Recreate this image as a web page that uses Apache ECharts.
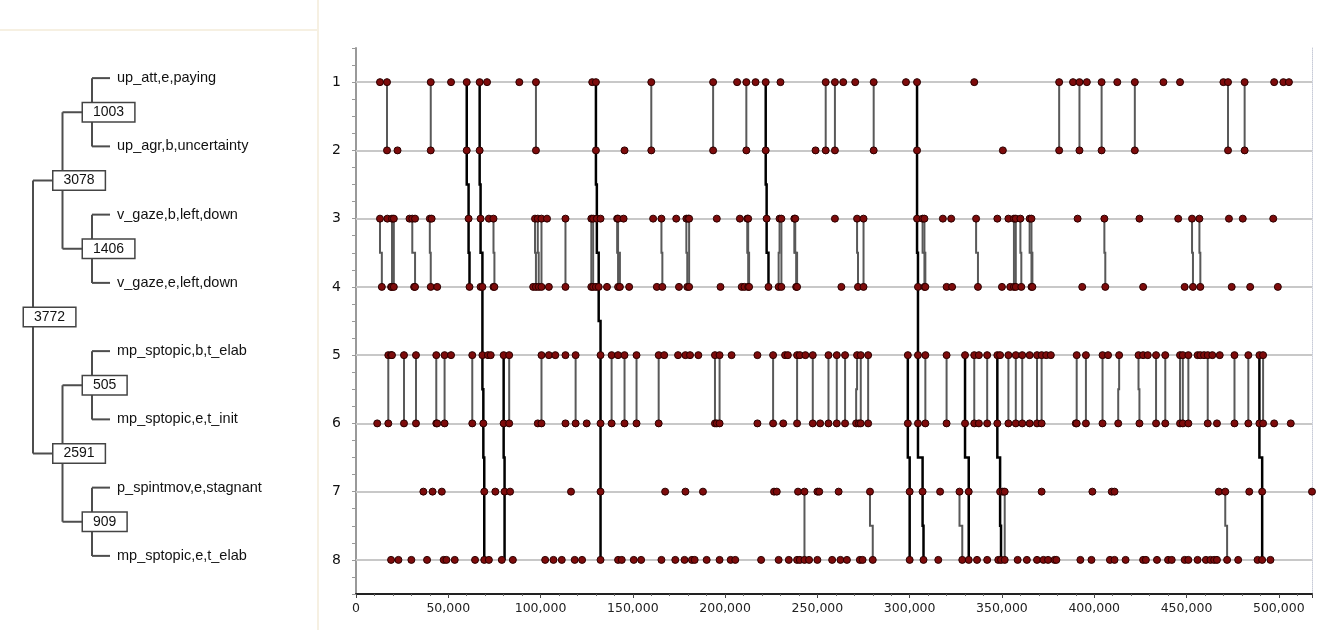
<!DOCTYPE html>
<html lang="en">
<head>
<meta charset="UTF-8">
<title>Episode chart</title>
<style>
  * { margin: 0; padding: 0; }
  body { background: #fff; overflow: hidden; }
  #chart { width: 1325px; height: 630px; }
</style>
</head>
<body>
<div id="chart"></div>
<script src="https://cdn.jsdelivr.net/npm/echarts@6/dist/echarts.min.js"></script>
<script>
  // dendrogram of the event types (leaves are rows 1..8, top to bottom)
  const tree = {
    name: '3772', children: [
      { name: '3078', children: [
        { name: '1003', children: [{ name: 'up_att,e,paying' }, { name: 'up_agr,b,uncertainty' }] },
        { name: '1406', children: [{ name: 'v_gaze,b,left,down' }, { name: 'v_gaze,e,left,down' }] }
      ] },
      { name: '2591', children: [
        { name: '505', children: [{ name: 'mp_sptopic,b,t_elab' }, { name: 'mp_sptopic,e,t_init' }] },
        { name: '909', children: [{ name: 'p_spintmov,e,stagnant' }, { name: 'mp_sptopic,e,t_elab' }] }
      ] }
    ]
  };

  const rows = [1, 2, 3, 4, 5, 6, 7, 8];
  const xTicks = { min: 0, max: 518000, step: 50000 };

  // event times per row
  const row1 = [13000, 16800, 40500, 51500, 60000, 67000, 71000, 88500, 97500, 128000, 130000, 160000, 193500, 206500, 211500, 216500, 222000, 230000, 254500, 259500, 264000, 270500, 280500, 298000, 304000, 335000, 381000, 388500, 392000, 396000, 404000, 412500, 422000, 437500, 446500, 470000, 472500, 481500, 497500, 502500, 505500];
  const row2 = [16800, 22500, 40500, 60000, 67000, 97500, 130000, 145500, 160000, 193500, 211500, 222000, 249000, 254500, 259500, 280500, 304000, 350500, 381000, 392000, 404000, 422000, 472500, 481500];
  const row3 = [13000, 17000, 19500, 20500, 29000, 30500, 32000, 40000, 41000, 61000, 67500, 72000, 74500, 97000, 98500, 100500, 103500, 113500, 127500, 128500, 130500, 132500, 141500, 142000, 145000, 161000, 165500, 173500, 179000, 180000, 180500, 195500, 208000, 212000, 212500, 222500, 229500, 230500, 237500, 238000, 259500, 271500, 275000, 304000, 307000, 308000, 318000, 322500, 336000, 347500, 353500, 356500, 357500, 360000, 365000, 366000, 391000, 405500, 424500, 445500, 453000, 457000, 473000, 480500, 497000];
  const row4 = [14000, 19000, 19500, 20500, 31500, 32000, 40500, 44000, 61500, 67500, 68500, 74500, 75000, 96000, 97500, 99000, 100500, 104500, 113500, 127500, 128500, 130000, 131500, 136000, 142000, 143000, 148000, 163000, 166000, 175000, 179500, 180500, 197500, 209000, 210500, 212500, 213000, 223500, 229000, 230500, 238500, 239000, 263000, 272000, 275000, 304500, 308000, 308500, 320000, 323000, 337000, 350000, 354500, 356500, 357500, 360500, 366000, 366500, 393500, 406000, 426500, 449000, 453500, 457500, 474500, 484500, 499500];
  const row5 = [17500, 19000, 19500, 26000, 32500, 43500, 48000, 51500, 63000, 68500, 71500, 73000, 80000, 83000, 100500, 104500, 108000, 113500, 119000, 132500, 138500, 142000, 145500, 152000, 164000, 167000, 174500, 178500, 181000, 185500, 194500, 197000, 203500, 217500, 226000, 232500, 234000, 239000, 240500, 243500, 247500, 256000, 260500, 265000, 271500, 273500, 277500, 299000, 304500, 308500, 320000, 330000, 335000, 337500, 342000, 347500, 349000, 353500, 357500, 361000, 365000, 369000, 371500, 374000, 376500, 390500, 395500, 404500, 407500, 413500, 424000, 426500, 429000, 433500, 438500, 446500, 448000, 451000, 456000, 457500, 459500, 461500, 464000, 468000, 476000, 483500, 489500, 491500];
  const row6 = [11500, 17500, 26000, 32500, 43500, 44000, 48000, 63000, 69000, 80000, 83000, 98500, 100500, 113500, 119000, 125000, 132500, 138500, 145500, 152000, 164000, 194500, 195500, 197000, 217500, 226000, 231500, 239000, 247500, 251500, 256000, 260500, 265000, 271000, 272500, 273500, 277500, 299000, 304500, 308500, 320000, 330000, 335000, 337500, 342000, 347500, 353500, 357500, 361000, 365000, 369000, 371500, 390000, 390500, 395500, 404500, 413000, 424500, 433500, 438500, 446500, 448000, 451000, 461500, 466500, 476000, 483500, 489500, 491500, 497500, 506500];
  const row7 = [36500, 41500, 46500, 69500, 75500, 80500, 83500, 116500, 132500, 167500, 178500, 188000, 226500, 228000, 239500, 243000, 250000, 251000, 261500, 278500, 300000, 307000, 316500, 327000, 332000, 349000, 350500, 351500, 371500, 399000, 409500, 411000, 467500, 471000, 484000, 491000, 518000];
  const row8 = [19000, 23000, 30000, 38500, 47500, 49000, 53500, 64500, 69500, 72000, 79000, 85000, 102500, 107000, 111500, 118500, 122500, 132500, 142000, 144000, 150500, 154500, 165500, 173000, 178000, 182000, 183500, 190000, 197000, 203000, 205500, 219500, 229000, 234500, 239000, 240500, 243000, 245500, 250000, 258000, 262500, 266000, 273000, 274500, 280000, 300000, 307500, 315500, 328500, 332000, 336500, 342000, 348000, 349500, 351500, 358500, 363500, 369000, 372500, 375000, 378500, 379500, 392500, 398500, 408500, 411000, 417000, 426500, 428000, 434000, 440000, 442000, 449000, 451000, 456000, 460500, 463000, 465000, 466500, 472000, 478000, 488500, 491000, 495500];
  const rowEvents = [row1, row2, row3, row4, row5, row6, row7, row8];

  // pair links [time in upper row, time in lower row]
  const links1to2 = [[16800, 16800], [40500, 40500], [97500, 97500], [160000, 160000], [193500, 193500], [211500, 211500], [254500, 254500], [259500, 259500], [280500, 280500], [381000, 381000], [392000, 392000], [404000, 404000], [422000, 422000], [472500, 472500], [481500, 481500]];
  const links3to4 = [[13000, 14000], [19500, 19500], [20500, 20500], [30500, 32000], [40000, 40500], [74500, 75000], [97000, 97500], [98500, 99000], [100500, 100500], [113500, 113500], [127500, 127500], [128500, 128500], [141500, 142000], [142000, 143000], [165500, 166000], [179000, 179500], [180500, 180500], [212000, 212500], [212500, 213000], [229500, 229000], [230500, 230500], [237500, 238500], [238000, 239000], [271500, 272000], [275000, 275000], [307000, 308000], [308000, 308500], [336000, 337000], [356500, 356500], [357500, 357500], [360000, 360500], [365000, 366000], [366000, 366500], [405500, 406000], [453000, 453500], [457000, 457500]];
  const links5to6 = [[17500, 17500], [26000, 26000], [32500, 32500], [43500, 43500], [48000, 48000], [63000, 63000], [83000, 83000], [100500, 100500], [119000, 119000], [138500, 138500], [145500, 145500], [152000, 152000], [164000, 164000], [194500, 194500], [197000, 197000], [226000, 226000], [239000, 239000], [247500, 247500], [256000, 256000], [260500, 260500], [265000, 265000], [271500, 271000], [273500, 273500], [277500, 277500], [308500, 308500], [320000, 320000], [335000, 335000], [342000, 342000], [353500, 353500], [357500, 357500], [361000, 361000], [369000, 369000], [371500, 371500], [390500, 390500], [395500, 395500], [404500, 404500], [413500, 413000], [424000, 424500], [433500, 433500], [438500, 438500], [446500, 446500], [448000, 448000], [451000, 451000], [461500, 461500], [476000, 476000], [483500, 483500], [491500, 491500]];
  const links7to8 = [[243000, 243000], [278500, 280000], [327000, 328500], [351500, 351500], [471000, 472000]];

  // long episodes: first row, then time in each following row
  const episodes = [
    [1, [60000, 60000, 61000, 61500]],
    [1, [67000, 67000, 67500, 68500, 68500, 69000, 69500, 69500]],
    [1, [130000, 130000, 130500, 131500, 132500, 132500, 132500, 132500]],
    [1, [222000, 222000, 222500, 223500]],
    [1, [304000, 304000, 304000, 304500, 304500, 304500, 307000, 307500]],
    [5, [80000, 80000, 80500, 80500]],
    [5, [299000, 299000, 300000, 300000]],
    [5, [330000, 330000, 332000, 332000]],
    [5, [347500, 347500, 349000, 349500]],
    [5, [489500, 489500, 491000, 491000]]
  ];

  // path that steps sideways half way between rows
  function stepPath(startRow, xs) {
    const pts = [[xs[0], startRow]];
    for (let i = 1; i < xs.length; i++) {
      const mid = startRow + i - 0.5;
      pts.push([xs[i - 1], mid], [xs[i], mid], [xs[i], startRow + i]);
    }
    return pts;
  }

  const pairLines = [];
  [[1, links1to2], [3, links3to4], [5, links5to6], [7, links7to8]].forEach(([r, list]) => {
    list.forEach(p => pairLines.push({ coords: stepPath(r, p) }));
  });
  const episodeLines = episodes.map(([r, xs]) => ({ coords: stepPath(r, xs) }));

  const points = [];
  rowEvents.forEach((list, i) => list.forEach(x => points.push([x, rows[i]])));

  // tree layout: leaves take the rows in order, parents sit between first and last child
  const treeNodes = [];
  let leafCount = 0;
  function place(node, depth) {
    node.depth = depth;
    if (!node.children) {
      node.y = rows[leafCount++];
      return;
    }
    node.children.forEach(c => place(c, depth + 1));
    node.y = (node.children[0].y + node.children[node.children.length - 1].y) / 2;
    treeNodes.push(node);
  }
  place(tree, 0);

  const LEAF_STUB = 18;
  const edgeStyle = { stroke: '#4d4d4d', lineWidth: 2 };
  const boxFont = '14px "Liberation Sans", Arial, sans-serif';
  const leafFont = '14.5px "Liberation Sans", Arial, sans-serif';

  function renderNode(params, api) {
    const node = treeNodes[api.value(2)];
    const p = api.coord([node.depth, node.y]);
    const kids = node.children;
    const top = api.coord([node.depth, kids[0].y])[1];
    const bottom = api.coord([node.depth, kids[kids.length - 1].y])[1];
    const els = [{ type: 'line', shape: { x1: p[0], y1: top, x2: p[0], y2: bottom }, style: edgeStyle }];
    kids.forEach(c => {
      const cy = api.coord([node.depth, c.y])[1];
      const x2 = c.children ? api.coord([c.depth, c.y])[0] : p[0] + LEAF_STUB;
      els.push({ type: 'line', shape: { x1: p[0], y1: cy, x2: x2, y2: cy }, style: edgeStyle });
      if (!c.children) {
        els.push({ type: 'text', style: { text: c.name, x: x2 + 7, y: cy, verticalAlign: 'middle', fill: '#111', font: leafFont } });
      }
    });
    els.push({
      type: 'text', z2: 10,
      style: {
        text: node.name, x: p[0] - 9, y: p[1], align: 'left', verticalAlign: 'middle',
        fill: '#111', font: boxFont, backgroundColor: '#fff',
        borderColor: '#444', borderWidth: 1.5, padding: [2, 10]
      }
    });
    return { type: 'group', children: els };
  }

  const chart = echarts.init(document.getElementById('chart'));
  chart.setOption({
    animation: false,
    backgroundColor: '#fff',
    graphic: [
      { type: 'line', shape: { x1: 0, y1: 30, x2: 318, y2: 30 }, style: { stroke: '#f6f0e2', lineWidth: 2 }, silent: true },
      { type: 'line', shape: { x1: 318, y1: 0, x2: 318, y2: 630 }, style: { stroke: '#f6f0e2', lineWidth: 2 }, silent: true }
    ],
    grid: [
      { left: 356, right: 13, top: 48, bottom: 36 },
      { left: 33, width: 59, top: 44, height: 546 }
    ],
    xAxis: [
      {
        type: 'value', gridIndex: 0, min: xTicks.min, max: xTicks.max, interval: xTicks.step,
        axisLine: { lineStyle: { color: '#222', width: 2 } },
        axisTick: { length: 4, lineStyle: { color: '#444' } },
        minorTick: { show: true, splitNumber: 5, length: 2, lineStyle: { color: '#666' } },
        splitLine: { show: false },
        axisLabel: {
          color: '#222', fontSize: 12.5, fontFamily: 'DejaVu Sans', margin: 8, showMaxLabel: false,
          formatter: v => v.toLocaleString('en-US')
        }
      },
      { type: 'value', gridIndex: 1, min: 0, max: 2, show: false }
    ],
    yAxis: [
      {
        type: 'value', gridIndex: 0, inverse: true, min: 0.5, max: 8.5, interval: 0.25,
        axisLine: { show: true, lineStyle: { color: '#999', width: 2 } },
        axisTick: { show: true, length: 4, lineStyle: { color: '#999' } },
        splitLine: { show: false },
        axisLabel: {
          color: '#111', fontSize: 14, fontFamily: 'DejaVu Sans', margin: 15,
          formatter: v => (Number.isInteger(v) ? String(v) : '')
        }
      },
      {
        type: 'value', gridIndex: 0, position: 'right', inverse: true, min: 0.5, max: 8.5,
        axisLine: { show: true, lineStyle: { color: '#c8ccd8', width: 1, type: 'dotted' } },
        axisTick: { show: false }, axisLabel: { show: false }, splitLine: { show: false }
      },
      { type: 'value', gridIndex: 1, inverse: true, min: 0.5, max: 8.5, show: false }
    ],
    series: [
      {
        type: 'line', xAxisIndex: 0, yAxisIndex: 0, data: [], silent: true, z: 1,
        markLine: {
          silent: true, symbol: 'none', label: { show: false }, z: 1,
          lineStyle: { color: '#c8c8c8', width: 2, type: 'solid' },
          data: rows.map(r => ({ yAxis: r }))
        }
      },
      {
        type: 'lines', coordinateSystem: 'cartesian2d', xAxisIndex: 0, yAxisIndex: 0,
        polyline: true, silent: true, z: 2,
        lineStyle: { color: '#595959', width: 2, opacity: 1 },
        data: pairLines
      },
      {
        type: 'lines', coordinateSystem: 'cartesian2d', xAxisIndex: 0, yAxisIndex: 0,
        polyline: true, silent: true, z: 3,
        lineStyle: { color: '#000', width: 2.5, opacity: 1 },
        data: episodeLines
      },
      {
        type: 'scatter', xAxisIndex: 0, yAxisIndex: 0, z: 4, symbolSize: 7,
        itemStyle: { color: '#7d0b0b', borderColor: '#2a0000', borderWidth: 1, opacity: 1 },
        data: points
      },
      {
        type: 'custom', xAxisIndex: 1, yAxisIndex: 2, silent: true, z: 5,
        renderItem: renderNode,
        data: treeNodes.map((n, i) => [n.depth, n.y, i])
      }
    ]
  });
</script>
</body>
</html>
